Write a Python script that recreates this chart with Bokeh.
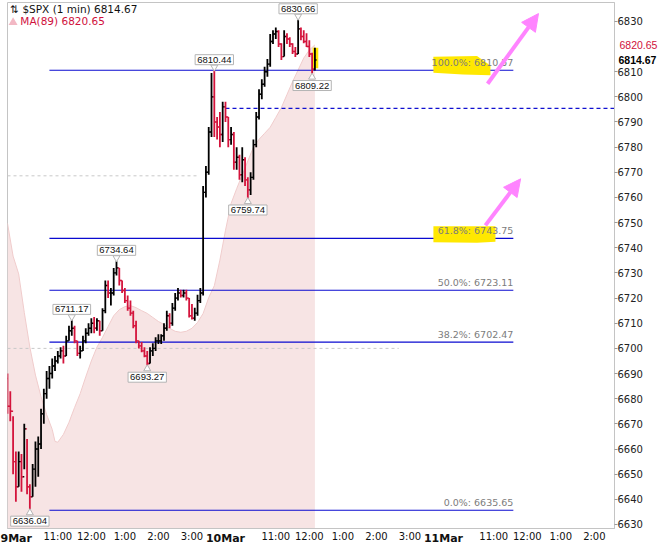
from bokeh.plotting import figure
from bokeh.models import Range1d, FixedTicker, ColumnDataSource, Label, Arrow, NormalHead, LinearAxis
from bokeh.embed import file_html
from bokeh.resources import INLINE

# ---------------- data ----------------
# bar time = minutes since 9:30 on 9 Mar (each session = 390 minutes)
bar_t = [0, 5, 10, 15, 20, 25, 30, 35, 40, 45, 50, 55, 60, 65, 70, 75, 80, 85, 90, 95,
         100, 105, 110, 115, 120, 125, 130, 135, 140, 145, 150, 155, 160, 165, 170, 175, 180, 185, 190, 195,
         200, 205, 210, 215, 220, 225, 230, 235, 240, 245, 250, 255, 260, 265, 270, 275, 280, 285, 290, 295,
         300, 305, 310, 315, 320, 325, 330, 335, 340, 345, 350, 355, 360, 365, 370, 375, 380, 385,
         390, 395, 400, 405, 410, 415, 420, 425, 430, 435, 440, 445, 450, 455, 460, 465, 470, 475,
         480, 485, 490, 495, 500, 505, 510, 515, 520, 525, 530, 535, 540, 545, 550]
bar_high = [6690, 6683, 6673, 6659, 6659, 6658, 6670, 6664, 6646, 6654, 6663, 6665, 6676, 6684, 6691, 6693, 6696, 6697, 6699, 6700.5,
            6701, 6705, 6709, 6711.17, 6709, 6703, 6701, 6705, 6708, 6710, 6712, 6712.5, 6712, 6711, 6716, 6727, 6727, 6724, 6732, 6734.64,
            6732, 6727, 6724, 6721, 6719, 6715, 6711, 6703, 6702.5, 6700.5, 6699, 6700.5, 6702, 6704.4, 6705.6, 6705.6, 6710, 6715, 6714, 6718,
            6722, 6724, 6723.3, 6723.3, 6723.3, 6720, 6717.6, 6716.2, 6721.3, 6724, 6764.6, 6772.5, 6788, 6809.5, 6810.44, 6792, 6794, 6798,
            6798, 6792, 6788, 6786, 6780, 6777, 6780, 6776, 6768, 6770, 6783, 6794, 6803, 6807, 6812, 6815, 6825, 6826.5,
            6827.6, 6826.5, 6821.3, 6826.5, 6825.3, 6823.7, 6821.3, 6819.8, 6830.66, 6827.6, 6826.5, 6825.3, 6822.5, 6817.5, 6819.5]
bar_low = [6674, 6671, 6650, 6639, 6645, 6643, 6652, 6642, 6636.04, 6641, 6645, 6649, 6660, 6670, 6680, 6684, 6688, 6691, 6694, 6696,
           6694, 6697, 6703, 6705, 6702, 6697, 6696, 6699, 6702, 6705, 6706, 6706, 6707, 6705, 6707, 6714, 6720, 6717, 6721, 6729,
           6725, 6722, 6718, 6715, 6713, 6708, 6702, 6700, 6698.5, 6696.5, 6693.27, 6694, 6697, 6699, 6701.7, 6701.7, 6703, 6707, 6708, 6709,
           6715, 6719, 6720.2, 6720.2, 6719, 6712.3, 6711.5, 6711, 6713, 6718, 6721, 6760, 6769, 6784, 6784, 6783, 6780, 6782,
           6790, 6780, 6781, 6771, 6771, 6767, 6766, 6764.6, 6759.74, 6761, 6767, 6780, 6791, 6799, 6804, 6808, 6812, 6821,
           6823, 6819.8, 6814.6, 6816, 6821, 6819.8, 6817, 6815.8, 6817, 6822.5, 6821.3, 6819.8, 6815.8, 6809.22, 6810.5]
bar_close = [6677, 6675, 6655, 6645, 6655, 6649, 6668, 6645, 6641, 6652, 6660, 6662, 6674, 6682, 6688, 6690, 6693, 6695, 6697, 6699,
             6697, 6703, 6707, 6708, 6703, 6698, 6699, 6703, 6706, 6708, 6710, 6708, 6711, 6707, 6715, 6725, 6722, 6722, 6730, 6732,
             6727, 6723, 6719, 6716, 6714, 6709, 6703, 6701, 6699, 6697, 6694, 6699, 6700, 6703, 6703, 6705, 6708, 6713, 6710, 6716,
             6720, 6722, 6721, 6722, 6720, 6713, 6712, 6714, 6719, 6722, 6762, 6770, 6786, 6800, 6790, 6788, 6785, 6796,
             6792, 6783, 6785, 6774, 6776, 6769, 6775, 6767, 6763, 6768, 6781, 6792, 6801, 6805, 6810, 6813, 6822, 6825,
             6826, 6821, 6816, 6824, 6823, 6821, 6818, 6817, 6827, 6824, 6822, 6820, 6817, 6811, 6814.67]
first_open = 6688

# MA(89) sampled every 10 minutes
ma_t = [0, 10, 20, 30, 40, 50, 60, 70, 80, 85, 90, 100, 110, 120, 130, 140, 150, 160, 170, 180, 190,
        200, 210, 220, 230, 240, 250, 260, 270, 280, 290, 300, 310, 320, 330, 340, 350, 360, 370, 380,
        390, 400, 410, 420, 430, 440, 450, 460, 470, 480, 490, 500, 510, 520, 530, 540, 550]
ma_v = [6749.7, 6736.7, 6729.6, 6714.3, 6700.5, 6689.4, 6680.8, 6673.7, 6667.8, 6663.0, 6662.7, 6665.8, 6670.6,
        6676.5, 6682.0, 6688.7, 6695.0, 6700.5, 6704.4, 6708.7, 6713.0, 6715.4, 6716.6, 6717.0, 6716.2, 6715.0,
        6713.9, 6712.3, 6710.7, 6709.5, 6708.0, 6706.8, 6706.4, 6706.8, 6708.0, 6710.3, 6713.9, 6720.2, 6724.9,
        6735.1, 6746.9, 6757.6, 6763.5, 6769.0, 6774.5, 6780.0, 6783.1, 6785.5, 6787.9, 6791.8, 6795.7, 6800.9,
        6806.0, 6810.7, 6815.4, 6818.6, 6820.65]

fib_pct = ["100.0%", "61.8%", "50.0%", "38.2%", "0.0%"]
fib_val = [6810.57, 6743.75, 6723.11, 6702.47, 6635.65]

callout_t = [40, 115, 195, 250, 370, 430, 520, 545]
callout_v = [6636.04, 6711.17, 6734.64, 6693.27, 6810.44, 6759.74, 6830.66, 6809.22]
callout_above = [False, True, True, False, True, False, True, False]

time_ticks = [90, 150, 210, 270, 330, 480, 540, 600, 660, 720, 870, 930, 990, 1050]
time_labels = ["11:00", "12:00", "1:00", "2:00", "3:00", "11:00", "12:00", "1:00", "2:00", "3:00",
               "11:00", "12:00", "1:00", "2:00"]
date_ticks = [0, 390, 780]
date_labels = ["9Mar", "10Mar", "11Mar"]
price_ticks = [6630, 6640, 6650, 6660, 6670, 6680, 6690, 6700, 6710, 6720, 6730, 6740, 6750,
               6760, 6770, 6780, 6790, 6800, 6810, 6820, 6830]

last_price = 6814.67
ma_last = 6820.65
dash_level = 6795.4
grey_levels = [6768.6, 6700.0]

# ---------------- figure ----------------
Y0, Y1 = 6628.4, 6837.5
X0, X1 = 0, 1086
FONT = "DejaVu Sans"
TAG_FONT = "Liberation Sans"
UP, DOWN = "#000000", "#d4143c"
PINK_TEXT = "#d0103c"

p = figure(width=662, height=547, output_backend="svg", toolbar_location=None,
           x_range=Range1d(X0, X1), y_range=Range1d(Y0, Y1), y_axis_location="right",
           min_border_left=7, min_border_top=2, min_border_right=48, min_border_bottom=14)
p.xgrid.visible = False
p.ygrid.visible = False
p.outline_line_color = "#c4c4c4"
p.background_fill_color = "white"
p.border_fill_color = "white"

xa = p.xaxis[0]
xa.ticker = FixedTicker(ticks=time_ticks)
xa.major_label_overrides = {t: s for t, s in zip(time_ticks, time_labels)}
xa.major_tick_line_color = None
xa.major_tick_in = 0
xa.major_tick_out = 0
xa.minor_tick_line_color = None
xa.axis_line_color = "#c4c4c4"
xa.major_label_text_font = FONT
xa.major_label_text_font_size = "10px"
xa.major_label_text_color = "#111111"
xa.major_label_standoff = 2

# bold date labels: a second time axis whose labels are pulled back onto the same row
xd = LinearAxis(ticker=FixedTicker(ticks=date_ticks),
                major_label_overrides={t: s for t, s in zip(date_ticks, date_labels)},
                major_tick_line_color=None, major_tick_in=0, major_tick_out=0,
                minor_tick_line_color=None, axis_line_color=None,
                major_label_text_font=FONT, major_label_text_font_size="11px",
                major_label_text_font_style="bold", major_label_text_color="#111111",
                major_label_standoff=-13)
p.add_layout(xd, "below")

ya = p.yaxis[0]
ya.ticker = FixedTicker(ticks=[v for v in price_ticks if abs(v - ma_last) > 3])
ya.major_tick_out = 3
ya.major_tick_in = 0
ya.major_tick_line_color = "#9a9a9a"
ya.minor_tick_line_color = None
ya.axis_line_color = "#c4c4c4"
ya.major_label_text_font = FONT
ya.major_label_text_font_size = "10px"
ya.major_label_text_color = "#222222"
ya.major_label_standoff = 0

# price tags: extra price axes pulled back next to the main price axis
last_axis = LinearAxis(ticker=FixedTicker(ticks=[last_price]),
                       major_label_overrides={last_price: f"{last_price:.2f}"},
                       major_tick_line_color=None, major_tick_in=0, major_tick_out=0,
                       minor_tick_line_color=None, axis_line_color=None,
                       major_label_text_font=TAG_FONT, major_label_text_font_size="10.5px",
                       major_label_text_font_style="bold",
                       major_label_text_color="#000000", major_label_standoff=-27)
p.add_layout(last_axis, "right")
ma_axis = LinearAxis(ticker=FixedTicker(ticks=[ma_last]),
                     major_label_overrides={ma_last: f"{ma_last:.2f}"},
                     major_tick_line_color=None, major_tick_in=0, major_tick_out=0,
                     minor_tick_line_color=None, axis_line_color=None,
                     major_label_text_font=TAG_FONT, major_label_text_font_size="10.5px",
                     major_label_text_color=PINK_TEXT, major_label_standoff=-40)
p.add_layout(ma_axis, "right")

# MA(89) mountain
p.varea(x=ma_t, y1=[Y0] * len(ma_t), y2=ma_v, fill_color="#f7e4e4")
p.line(ma_t, ma_v, line_color="#f0cccc", line_width=1)

# reference dashed lines
p.segment(x0=[0, 0], y0=grey_levels, x1=[340, 700], y1=grey_levels,
          line_color="#c8c8c8", line_dash="3 3", line_width=1)
p.segment(x0=[390], y0=[dash_level], x1=[X1], y1=[dash_level],
          line_color="#1010d0", line_dash="4 3", line_width=1.2)

# fibonacci lines
p.segment(x0=[75] * len(fib_val), y0=fib_val, x1=[905] * len(fib_val), y1=fib_val,
          line_color="#0a0ad0", line_width=1.2)

# yellow highlighter strokes
p.patch([762, 840, 864, 864, 815, 762], [6815.9, 6816.2, 6812.5, 6808.6, 6808.9, 6809.6],
        fill_color="#ffe800", line_color=None)
p.patch([762, 873, 873, 840, 762], [6748.6, 6748.6, 6742.4, 6742.0, 6742.2],
        fill_color="#ffe800", line_color=None)
p.quad(left=[546], right=[556], bottom=[6811.4], top=[6819.5], fill_color="#ffe800", line_color=None)

# OHLC bars
bar_open = [first_open] + bar_close[:-1]
colors = [UP if c >= o else DOWN for o, c in zip(bar_open, bar_close)]
src = ColumnDataSource(dict(t=bar_t, h=bar_high, l=bar_low, o=bar_open, c=bar_close, col=colors,
                            tl=[t - 3 for t in bar_t], tr=[t + 3 for t in bar_t]))
p.segment(x0="t", y0="l", x1="t", y1="h", line_color="col", line_width=1.8, source=src)
p.segment(x0="tl", y0="o", x1="t", y1="o", line_color="col", line_width=1.4, source=src)
p.segment(x0="t", y0="c", x1="tr", y1="c", line_color="col", line_width=1.4, source=src)

# callout pointers + boxes
unit = (Y1 - Y0) / 531.0
for t, v, above in zip(callout_t, callout_v, callout_above):
    if above:
        ly = v + 11 * unit
        p.scatter([t], [v + 3.5 * unit], marker="inverted_triangle", size=7,
                  fill_color="white", line_color="#b4b4b4")
    else:
        ly = v - 12 * unit
        p.scatter([t], [v - 3.5 * unit], marker="triangle", size=7,
                  fill_color="white", line_color="#b4b4b4")
    p.add_layout(Label(x=t, y=ly, text=f"{v:.2f}", text_align="center", text_baseline="middle",
                       text_font="Liberation Sans", text_font_size="9.5px", text_color="#111111",
                       background_fill_color="white", border_line_color="#b4b4b4", padding=2))

# fib labels
for pct, v in zip(fib_pct, fib_val):
    p.add_layout(Label(x=905, y=v, y_offset=2, text=f"{pct}: {v:.2f}", text_align="right",
                       text_baseline="bottom", text_font=FONT, text_font_size="9.5px",
                       text_color="#7c7c7c"))

# pink arrows
for xs, ys, xe, ye in [(859, 6805.2, 950, 6833.1), (855, 6748.9, 918, 6767.4)]:
    p.add_layout(Arrow(x_start=xs, y_start=ys, x_end=xe, y_end=ye, line_color="#ff84ff", line_width=4,
                       end=NormalHead(size=17, fill_color="#ff84ff", line_color="#ff84ff")))

# legend text
p.add_layout(Label(x=5, y=6835.1, text="⇅ $SPX (1 min) 6814.67", text_baseline="middle",
                   text_font=FONT, text_font_size="10.5px", text_color="#111111"))
p.scatter([10], [6829.6], marker="triangle", size=9, fill_color="#f2b8c4", line_color=None)
p.add_layout(Label(x=23, y=6830.0, text=f"MA(89) {ma_last:.2f}", text_baseline="middle",
                   text_font=FONT, text_font_size="10.5px", text_color=PINK_TEXT))

open("out.html", "w").write(file_html(p, INLINE))
